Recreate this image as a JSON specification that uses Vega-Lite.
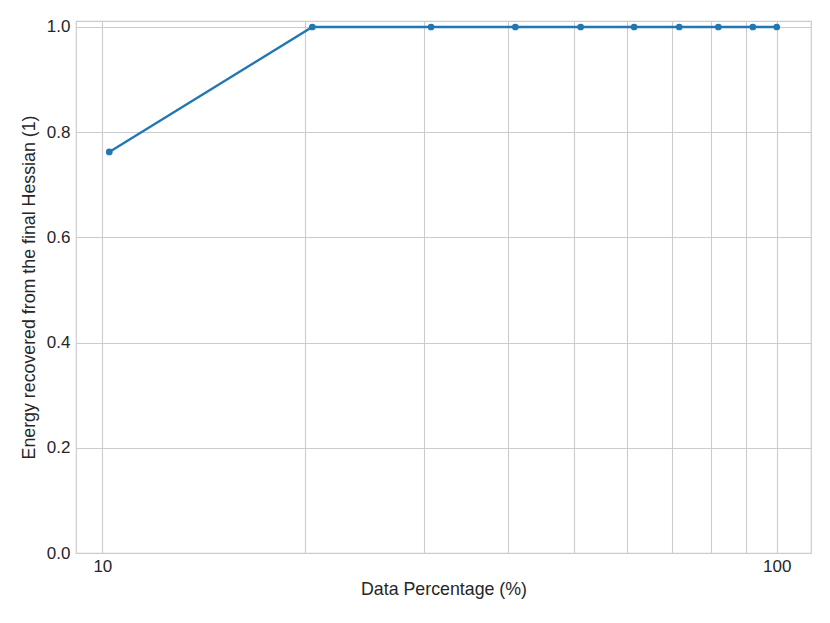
{
  "$schema": "https://vega.github.io/schema/vega-lite/v6.json",
  "width": 735,
  "height": 532,
  "autosize": {"type": "none"},
  "padding": {"left": 76, "top": 21, "right": 19, "bottom": 70},
  "background": "white",
  "config": {
    "view": {"stroke": "#cccccc", "strokeWidth": 1.2},
    "font": "Liberation Sans",
    "axis": {
      "gridColor": "#cccccc",
      "gridWidth": 1.1,
      "domain": false,
      "ticks": false,
      "labelFont": "Liberation Sans",
      "titleFont": "Liberation Sans",
      "labelFontSize": 17,
      "titleFontSize": 17.8,
      "labelColor": "#262626",
      "titleColor": "#262626",
      "titleFontWeight": "normal"
    }
  },
  "data": {
    "values": [
      {"pct": 10.24, "energy": 0.7624},
      {"pct": 20.48, "energy": 1.0},
      {"pct": 30.72, "energy": 1.0},
      {"pct": 40.96, "energy": 1.0},
      {"pct": 51.2, "energy": 1.0},
      {"pct": 61.44, "energy": 1.0},
      {"pct": 71.68, "energy": 1.0},
      {"pct": 81.92, "energy": 1.0},
      {"pct": 92.16, "energy": 1.0},
      {"pct": 100, "energy": 1.0}
    ]
  },
  "mark": {"type": "line", "color": "#1f77b4", "strokeWidth": 2.3, "point": {"color": "#1f77b4", "size": 45, "filled": true, "opacity": 1}},
  "encoding": {
    "x": {
      "field": "pct",
      "type": "quantitative",
      "scale": {"type": "log", "domain": [9.14, 112.4], "nice": false},
      "axis": {
        "title": "Data Percentage (%)",
        "values": [10, 20, 30, 40, 50, 60, 70, 80, 90, 100],
        "labelExpr": "datum.value == 10 || datum.value == 100 ? format(datum.value, 'd') : ''",
        "labelPadding": 5,
        "titlePadding": 6
      }
    },
    "y": {
      "field": "energy",
      "type": "quantitative",
      "scale": {"domain": [0, 1.0114], "nice": false, "zero": true},
      "axis": {
        "title": "Energy recovered from the final Hessian (1)",
        "values": [0, 0.2, 0.4, 0.6, 0.8, 1.0],
        "format": ".1f",
        "labelPadding": 6,
        "titlePadding": 8
      }
    }
  }
}
